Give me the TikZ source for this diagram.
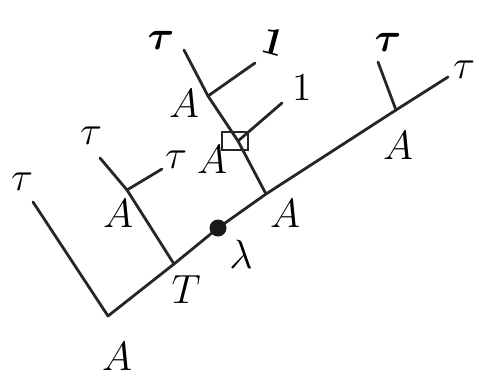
\documentclass[tikz,border=0pt]{standalone}
\usepackage{tikz}
\usepackage{bm}
\begin{document}
\begin{tikzpicture}[x=1pt,y=-1pt,
  edge/.style={line width=2.8pt,line cap=round,line join=round,black!85},
  lab/.style={inner sep=0pt,font=\large,scale=3.4,transform shape},
  onemark/.style={inner sep=0pt,font=\large,scale=3.3,transform shape},
  boxmark/.style={draw,line width=2.4pt,black!85,minimum width=26pt,minimum height=18pt,inner sep=0pt}]
\useasboundingbox (0,0) rectangle (479,381);
% junctions
\coordinate (root) at (108,316);
\coordinate (T) at (174,264);
\coordinate (dotc) at (218,228);
\coordinate (J) at (266,194);
\coordinate (R) at (396,110);
\coordinate (end) at (448,77);
\coordinate (leftend) at (33,202);
\coordinate (ltop) at (100,158);
\coordinate (lj) at (127,190);
\coordinate (lbr) at (162,169);
\coordinate (mtop) at (184,50);
\coordinate (m1) at (208,96);
\coordinate (m1br) at (255,63);
\coordinate (m2) at (238,141);
\coordinate (m2br) at (282,103);
\coordinate (rtop) at (378,62);
% edges
\draw[edge] (leftend) -- (root) -- (T) -- (dotc) -- (J) -- (R) -- (end);
\draw[edge] (T) -- (lj) -- (ltop);
\draw[edge] (lj) -- (lbr);
\draw[edge] (J) -- (m2) -- (m1) -- (mtop);
\draw[edge] (m1) -- (m1br);
\draw[edge] (m2) -- (m2br);
\draw[edge] (R) -- (rtop);
\node[boxmark] (box) at (235,141) {};
\fill[black!90] (dotc) circle (8.5pt);
% labels
\node[lab] (t1) at (22,182) {$\tau$};
\node[lab] (t2) at (91,136) {$\tau$};
\node[lab] (t3) at (176,160) {$\tau$};
\node[lab] (t4) at (161,40) {$\bm{\tau}$};
\node[lab] (t5) at (388,42) {$\bm{\tau}$};
\node[lab] (t6) at (464,70) {$\tau$};
\node[onemark] (o1) at (274,42) {\rotatebox{-15}{\textbf{1}}};
\node[onemark] (o2) at (302,87) {1};
\node[lab] (a1) at (118,214) {$A$};
\node[lab] (a2) at (184,104) {$A$};
\node[lab] (a3) at (212,160) {$A$};
\node[lab] (a4) at (285,214) {$A$};
\node[lab] (a5) at (398,146) {$A$};
\node[lab] (a6) at (117,357) {$A$};
\node[lab] (tt) at (186,290) {$T$};
\node[lab] (lam) at (241,254) {$\lambda$};
\end{tikzpicture}
\end{document}
